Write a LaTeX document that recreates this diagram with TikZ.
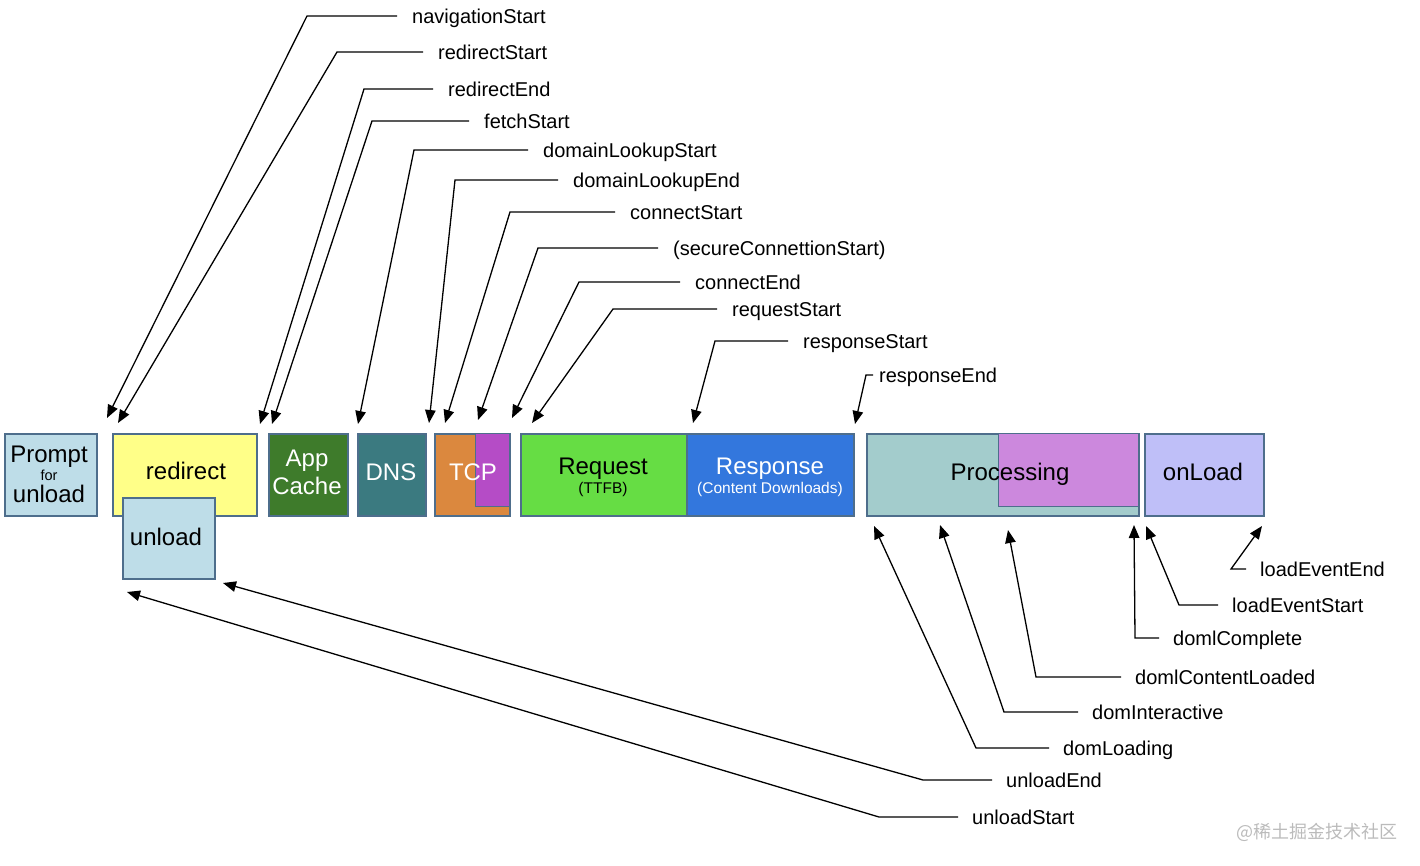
\documentclass[tikz,border=0pt]{standalone}
\usepackage{fontspec}
\setmainfont{Liberation Sans}
\newfontfamily\cjkfont{Noto Sans CJK SC}
\usetikzlibrary{arrows.meta}
\definecolor{bord}{HTML}{4E6E8C}
\definecolor{ltblue}{HTML}{BEDDE8}
\definecolor{yel}{HTML}{FFFF88}
\definecolor{appgreen}{HTML}{3E7B2B}
\definecolor{dnsteal}{HTML}{3B7A80}
\definecolor{tcporange}{HTML}{DB883E}
\definecolor{tcppurple}{HTML}{B54CC6}
\definecolor{reqgreen}{HTML}{66DD44}
\definecolor{resblue}{HTML}{3377DD}
\definecolor{procteal}{HTML}{A3CCCC}
\definecolor{procpurple}{HTML}{CC88DD}
\definecolor{onlavender}{HTML}{BFBFF8}
\definecolor{wm}{HTML}{BBBBBB}
\begin{document}
\begin{tikzpicture}[x=1pt,y=-1pt,
  box/.style={draw=bord, line width=2pt, anchor=north west, inner sep=0pt},
  inbox/.style={draw=bord, line width=1.3pt, anchor=north west, inner sep=0pt},
  bt/.style={font=\fontsize{24}{28}\selectfont, anchor=base, inner sep=0pt},
  st/.style={font=\fontsize{15.5}{18}\selectfont, anchor=base, inner sep=0pt},
  lbl/.style={font=\fontsize{20}{24}\selectfont, anchor=west, inner xsep=15pt, inner ysep=0pt, text height=14.3pt, text depth=0pt},
  blbl/.style={lbl, inner xsep=14pt},
  conn/.style={draw=black, line width=1.3pt, -{Triangle[length=13pt,width=10.5pt]}}
]
\useasboundingbox (0,0) rectangle (1420,866);

% ---- boxes ----
\node[box, fill=ltblue, minimum width=92pt, minimum height=82pt] (prompt) at (4,433) {};
\node[box, fill=yel, minimum width=144pt, minimum height=82pt] (redirect) at (112,433) {};
\node[box, fill=ltblue, minimum width=92pt, minimum height=81pt] (unload) at (122,497) {};
\node[box, fill=appgreen, minimum width=79pt, minimum height=82pt] (appcache) at (268,433) {};
\node[box, fill=dnsteal, minimum width=68pt, minimum height=82pt] (dns) at (357,433) {};
\node[box, fill=tcporange, minimum width=75pt, minimum height=82pt] (tcp) at (434,433) {};
\node[inbox, fill=tcppurple, minimum width=34pt, minimum height=73pt] (tcpin) at (475,433) {};
\node[box, fill=reqgreen, minimum width=166pt, minimum height=82pt] (request) at (520,433) {};
\node[box, fill=resblue, minimum width=167pt, minimum height=82pt] (response) at (686,433) {};
\node[box, fill=procteal, minimum width=272pt, minimum height=82pt] (proc) at (866,433) {};
\node[inbox, fill=procpurple, minimum width=140pt, minimum height=73pt] (procin) at (998,433) {};
\node[box, fill=onlavender, minimum width=119pt, minimum height=82pt] (onload) at (1144,433) {};

% ---- box texts ----
\node[bt] (tprompt) at (49,462) {Prompt};
\node[st, font=\fontsize{14.5}{16}\selectfont] (tfor) at (49,480) {for};
\node[bt] (tunl1) at (49,502) {unload};
\node[bt] (tredirect) at (186,479) {redirect};
\node[bt] (tunload) at (166,545) {unload};
\node[bt, text=white] (tapp) at (307,466) {App};
\node[bt, text=white] (tcache) at (307,494) {Cache};
\node[bt, text=white] (tdns) at (391,480) {DNS};
\node[bt, text=white] (ttcp) at (473,480) {TCP};
\node[bt] (treq) at (603,474) {Request};
\node[st] (tttfb) at (603,493) {(TTFB)};
\node[bt, text=white] (tres) at (770,474) {Response};
\node[st, text=white] (tcont) at (770,493) {(Content Downloads)};
\node[bt] (tproc) at (1010,480) {Processing};
\node[bt] (tonload) at (1203,480) {onLoad};

% ---- top labels ----
\node[lbl] (navS) at (397,16) {navigationStart};
\node[lbl] (redS) at (423,52) {redirectStart};
\node[lbl] (redE) at (433,89) {redirectEnd};
\node[lbl] (fetS) at (469,121) {fetchStart};
\node[lbl] (dlS) at (528,150) {domainLookupStart};
\node[lbl] (dlE) at (558,180) {domainLookupEnd};
\node[lbl] (conS) at (615,212) {connectStart};
\node[lbl] (secS) at (658,248) {(secureConnettionStart)};
\node[lbl] (conE) at (680,282) {connectEnd};
\node[lbl] (reqS) at (717,309) {requestStart};
\node[lbl] (resS) at (788,341) {responseStart};
\node[lbl, inner xsep=6pt] (resE) at (873,375) {responseEnd};

\coordinate (tnavS) at (107,418);
\coordinate (tredS) at (118,423);
\coordinate (tredE) at (260,424);
\coordinate (tfetS) at (272,424);
\coordinate (tdlS) at (358,424);
\coordinate (tdlE) at (429,423);
\coordinate (tconS) at (445,423);
\coordinate (tsecS) at (478,420);
\coordinate (tconE) at (512,418);
\coordinate (treqS) at (532,423);
\coordinate (tresS) at (693,423);
\coordinate (tresE) at (855,424);

\draw[conn] (navS.west) -- ++(-90,0) -- (tnavS);
\draw[conn] (redS.west) -- ++(-86,0) -- (tredS);
\draw[conn] (redE.west) -- ++(-69,0) -- (tredE);
\draw[conn] (fetS.west) -- ++(-97,0) -- (tfetS);
\draw[conn] (dlS.west) -- ++(-114,0) -- (tdlS);
\draw[conn] (dlE.west) -- ++(-103,0) -- (tdlE);
\draw[conn] (conS.west) -- ++(-105,0) -- (tconS);
\draw[conn] (secS.west) -- ++(-120,0) -- (tsecS);
\draw[conn] (conE.west) -- ++(-101,0) -- (tconE);
\draw[conn] (reqS.west) -- ++(-104,0) -- (treqS);
\draw[conn] (resS.west) -- ++(-73,0) -- (tresS);
\draw[conn] (resE.west) -- ++(-7,0) -- (tresE);

% ---- bottom labels ----
\node[blbl] (lEE) at (1246,569) {loadEventEnd};
\node[blbl] (lES) at (1218,605) {loadEventStart};
\node[blbl] (dCo) at (1159,638) {domlComplete};
\node[blbl] (dCL) at (1121,677) {domlContentLoaded};
\node[blbl] (dIn) at (1078,712) {domInteractive};
\node[blbl] (dLo) at (1049,748) {domLoading};
\node[blbl] (uEn) at (992,780) {unloadEnd};
\node[blbl] (uSt) at (958,817) {unloadStart};

\coordinate (tlEE) at (1262,526);
\coordinate (tlES) at (1146,526);
\coordinate (tdCo) at (1134,525);
\coordinate (tdCL) at (1008,530);
\coordinate (tdIn) at (940,525);
\coordinate (tdLo) at (874,526);
\coordinate (tuEn) at (223,583);
\coordinate (tuSt) at (127,592);

\draw[conn] (lEE.west) -- ++(-15,0) -- (tlEE);
\draw[conn] (lES.west) -- ++(-39,0) -- (tlES);
\draw[conn] (dCo.west) -- ++(-24,0) -- (tdCo);
\draw[conn] (dCL.west) -- ++(-85,0) -- (tdCL);
\draw[conn] (dIn.west) -- ++(-74,0) -- (tdIn);
\draw[conn] (dLo.west) -- ++(-73,0) -- (tdLo);
\draw[conn] (uEn.west) -- ++(-69,0) -- (tuEn);
\draw[conn] (uSt.west) -- ++(-79,0) -- (tuSt);

% ---- watermark ----
\node[font=\cjkfont\fontsize{18}{20}\selectfont, text=wm, anchor=east, inner sep=0pt] (wmark) at (1398,832) {@稀土掘金技术社区};
\end{tikzpicture}
\end{document}
